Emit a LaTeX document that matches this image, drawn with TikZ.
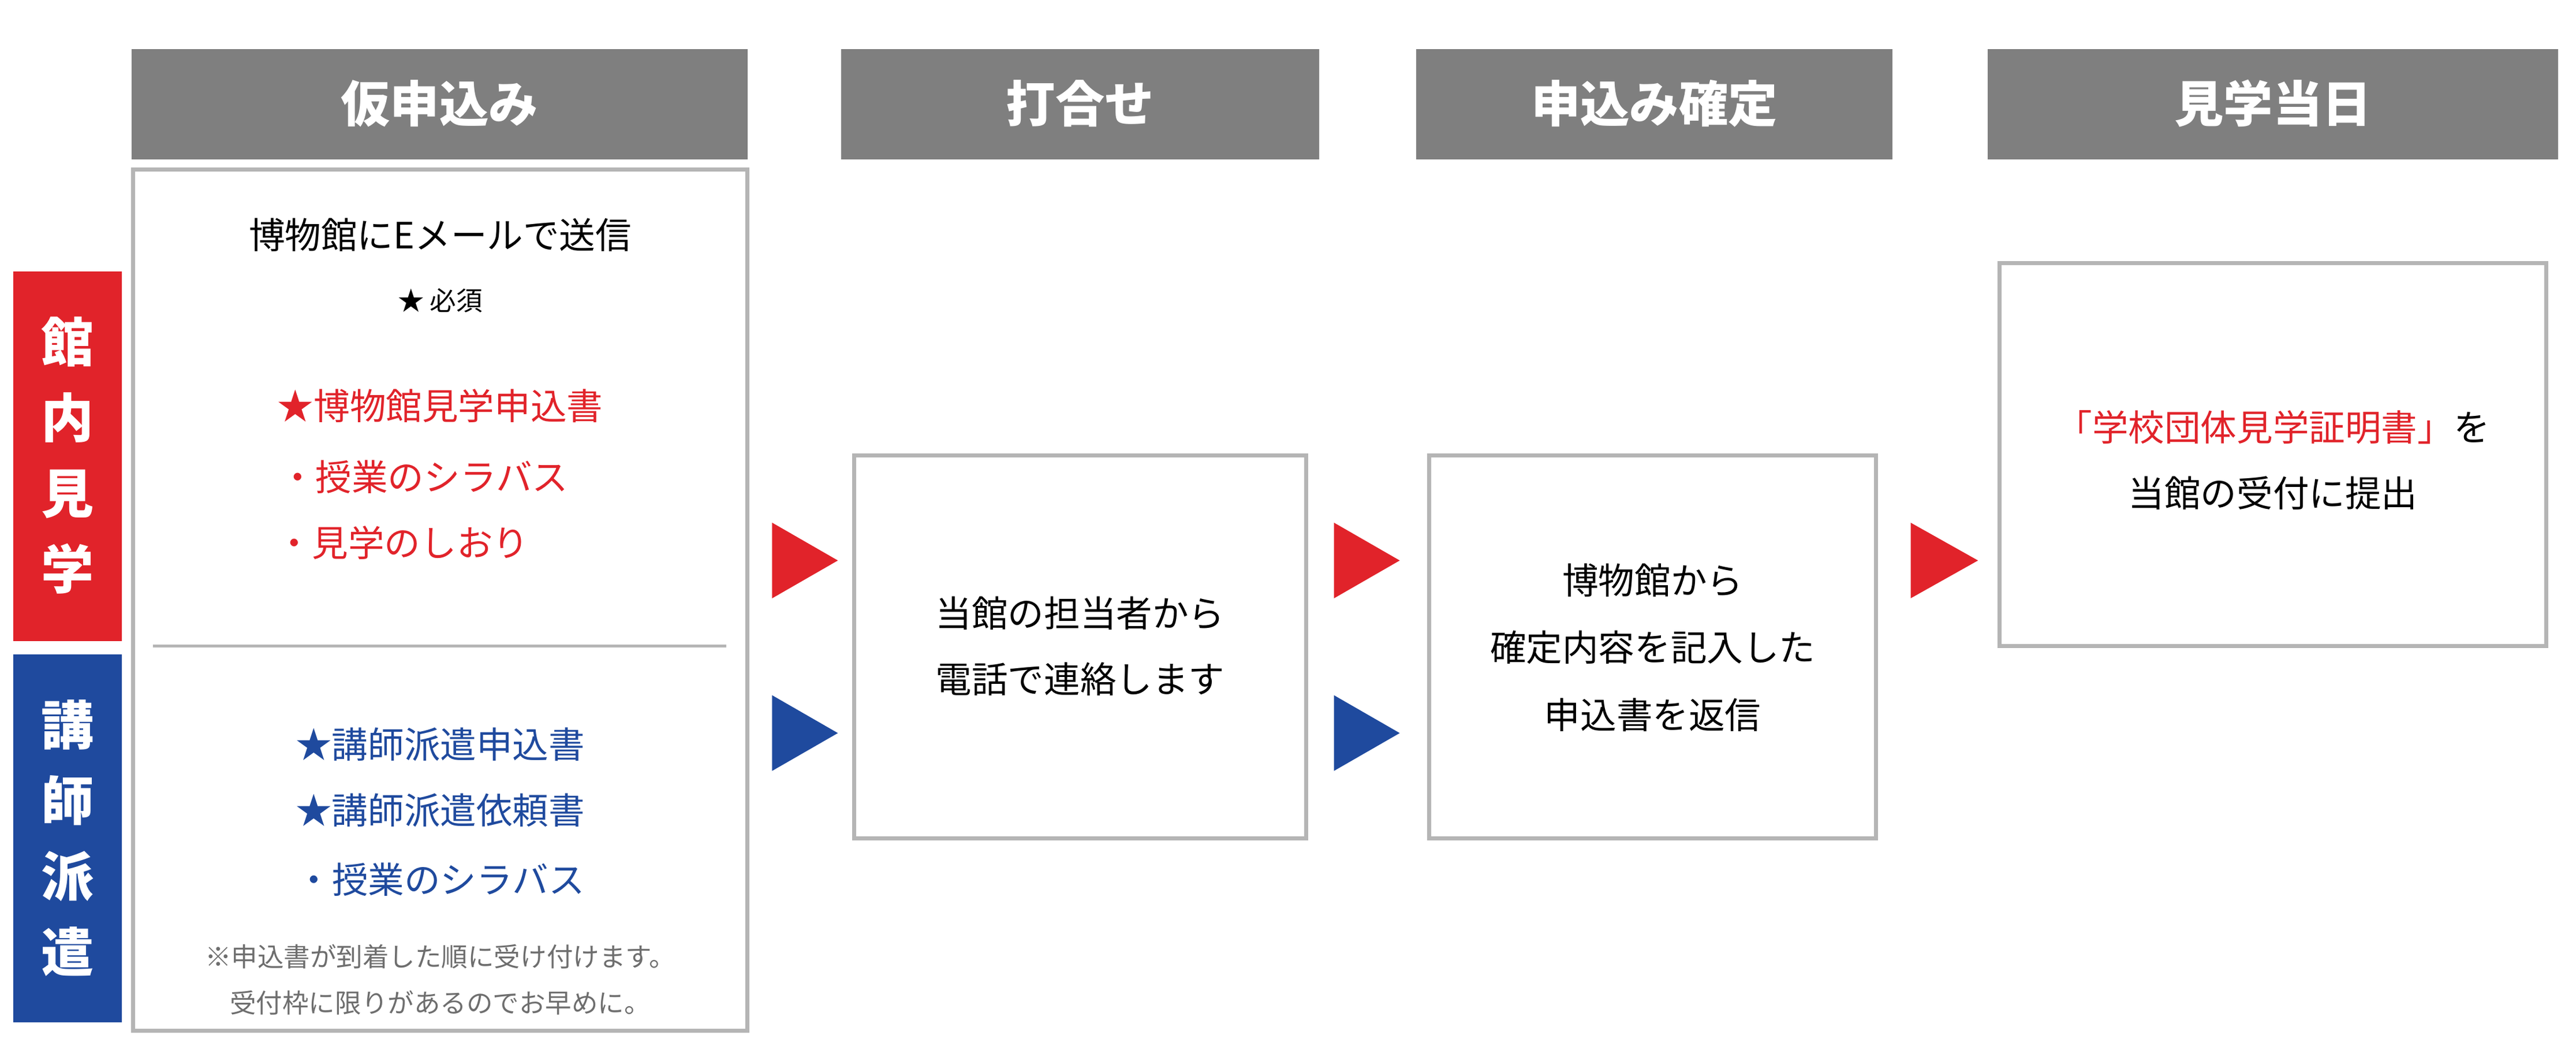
\documentclass[tikz,border=0pt]{standalone}
\usepackage{fontspec}
\setmainfont{Noto Sans CJK JP}
\definecolor{hdr}{HTML}{7F7F7F}
\definecolor{bdr}{HTML}{B5B5B5}
\definecolor{myred}{HTML}{E1232A}
\definecolor{myblue}{HTML}{1F4A9E}
\definecolor{note}{HTML}{6E6E6E}
\begin{document}
\begin{tikzpicture}[x=1pt,y=-1pt,
  hdrbox/.style={fill=hdr,draw=none,text=white,font=\fontsize{30}{34}\selectfont\bfseries},
  frame/.style={draw=bdr,line width=2.5pt},
  txt/.style={font=\fontsize{22}{26}\selectfont,text=black},
  sm/.style={font=\fontsize{16}{20}\selectfont,text=note},
  tri/.style={draw=none}]
\useasboundingbox (0,0) rectangle (1568,643);
% headers
\fill[hdr] (80,30) rectangle (455,97); \node[text=white,font=\fontsize{30}{34}\selectfont\bfseries] (h1) at (267.5,63) {仮申込み};
\fill[hdr] (512,30) rectangle (803,97); \node[text=white,font=\fontsize{30}{34}\selectfont\bfseries] (h2) at (657.5,63) {打合せ};
\fill[hdr] (862,30) rectangle (1152,97); \node[text=white,font=\fontsize{30}{34}\selectfont\bfseries] (h3) at (1007,63) {申込み確定};
\fill[hdr] (1210,30) rectangle (1557,97); \node[text=white,font=\fontsize{30}{34}\selectfont\bfseries] (h4) at (1383.5,63) {見学当日};
% side bars
\fill[myred] (8,165) rectangle (74,390);
\node[text=white,font=\fontsize{32}{46}\selectfont\bfseries,align=center] (s1) at (41,277) {館\\内\\見\\学};
\fill[myblue] (8,398) rectangle (74,622);
\node[text=white,font=\fontsize{32}{46}\selectfont\bfseries,align=center] (s2) at (41,510) {講\\師\\派\\遣};
% left box
\draw[frame] (81,103) rectangle (455,627);
\draw[bdr,line width=2pt] (93,393) -- (442,393);
\node[txt] (t1) at (268,143) {博物館にEメールで送信};
\node[font=\fontsize{16}{20}\selectfont] (t2) at (268,183) {★ 必須};
\node[txt,text=myred] (r1) at (268,247) {★博物館見学申込書};
\node[txt,text=myred] (r2) at (258,290) {・授業のシラバス};
\node[txt,text=myred] (r3) at (245,330) {・見学のしおり};
\node[txt,text=myblue] (b1) at (268,453) {★講師派遣申込書};
\node[txt,text=myblue] (b2) at (268,493) {★講師派遣依頼書};
\node[txt,text=myblue] (b3) at (268,535) {・授業のシラバス};
\node[sm] (n1) at (268,582) {※申込書が到着した順に受け付けます。};
\node[sm] (n2) at (268,610) {受付枠に限りがあるのでお早めに。};
% boxes
\draw[frame] (520,277) rectangle (795,510);
\node[txt,align=center,font=\fontsize{22}{40}\selectfont] (m1) at (657.5,393) {当館の担当者から\\電話で連絡します};
\draw[frame] (870,277) rectangle (1142,510);
\node[txt,align=center,font=\fontsize{22}{41}\selectfont] (m2) at (1006,394) {博物館から\\確定内容を記入した\\申込書を返信};
\draw[frame] (1217,160) rectangle (1550,393);
\node[txt,align=center,font=\fontsize{22}{40}\selectfont] (m3) at (1383.5,280) {\textcolor{myred}{「学校団体見学証明書」}を\\当館の受付に提出};
% triangles
\fill[myred] (470,318) -- (510,341) -- (470,364) -- cycle;
\fill[myblue] (470,423) -- (510,446) -- (470,469) -- cycle;
\fill[myred] (812,318) -- (852,341) -- (812,364) -- cycle;
\fill[myblue] (812,423) -- (852,446) -- (812,469) -- cycle;
\fill[myred] (1163,318) -- (1204,341) -- (1163,364) -- cycle;
\end{tikzpicture}
\end{document}
